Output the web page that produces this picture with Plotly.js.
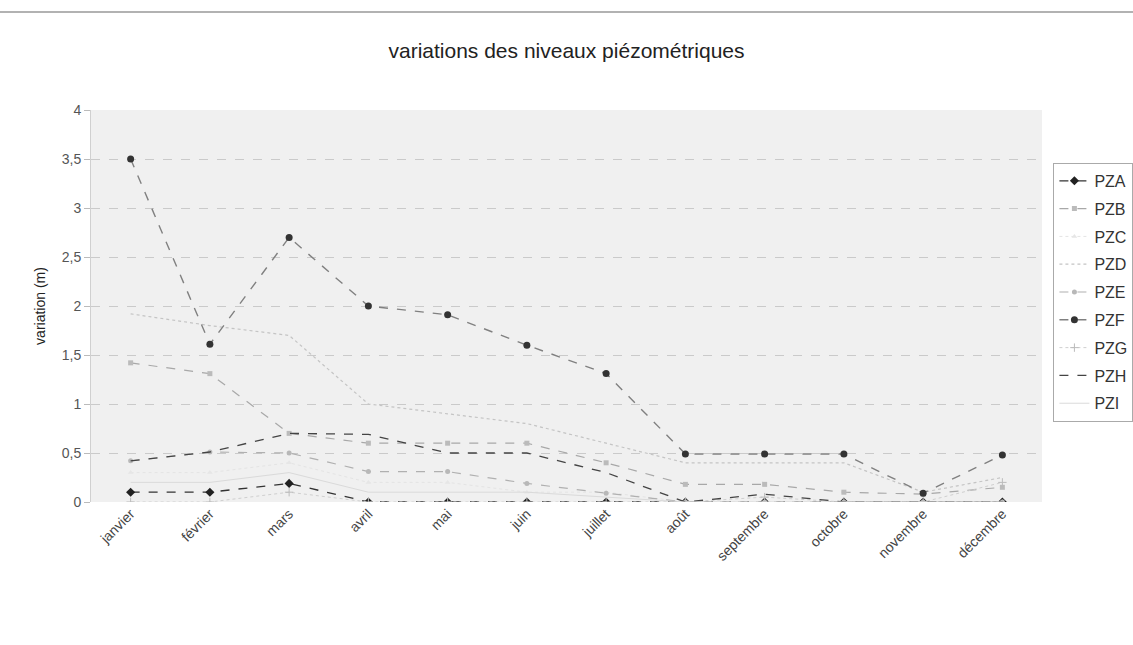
<!DOCTYPE html>
<html>
<head>
<meta charset="utf-8">
<script src="https://cdn.plot.ly/plotly-3.0.1.min.js"></script>
<style>html,body{margin:0;padding:0;background:#fff;}#chart{width:1133px;height:645px;}</style>
</head>
<body>
<div id="chart"></div>
<script>
const months = ["janvier","février","mars","avril","mai","juin","juillet","août","septembre","octobre","novembre","décembre"];
const PZA = [0.1, 0.1, 0.19, 0, 0, 0, 0, 0, 0, 0, 0, 0];
const PZB = [1.42, 1.31, 0.7, 0.6, 0.6, 0.6, 0.4, 0.18, 0.18, 0.1, 0.08, 0.15];
const PZC = [0.3, 0.3, 0.4, 0.2, 0.2, 0.1, 0.1, 0, 0, 0, 0, 0];
const PZD = [1.92, 1.8, 1.7, 1.0, 0.9, 0.8, 0.6, 0.4, 0.4, 0.4, 0.1, 0.25];
const PZE = [0.42, 0.51, 0.5, 0.31, 0.31, 0.19, 0.09, 0, 0, 0, 0, 0];
const PZF = [3.5, 1.61, 2.7, 2.0, 1.91, 1.6, 1.31, 0.49, 0.49, 0.49, 0.09, 0.48];
const PZG = [0, 0, 0.1, 0, 0, 0, 0, 0, 0.05, 0, 0, 0.2];
const PZH = [0.42, 0.51, 0.7, 0.69, 0.5, 0.5, 0.3, 0, 0.08, 0, 0, 0];
const PZI = [0.2, 0.2, 0.3, 0.1, 0.1, 0.1, 0.05, 0, 0, 0, 0, 0];

const FONT = "Liberation Sans, Arial, sans-serif";

const seriesDefs = [
  {name:"PZA", y:PZA, color:"#333", dash:"dash", width:1.3, marker:{symbol:"diamond", size:7, color:"#222"}, mode:"lines+markers"},
  {name:"PZB", y:PZB, color:"#a8a8a8", dash:"dash", width:1.2, marker:{symbol:"square", size:5, color:"#bbb"}, mode:"lines+markers"},
  {name:"PZC", y:PZC, color:"#e4e4e4", dash:"dot", width:1, marker:{symbol:"triangle-up", size:5, color:"#e6e6e6"}, mode:"lines+markers"},
  {name:"PZD", y:PZD, color:"#c4c4c4", dash:"dot", width:1.2, marker:{symbol:"circle", size:4, color:"#c8c8c8"}, mode:"lines"},
  {name:"PZE", y:PZE, color:"#b0b0b0", dash:"dash", width:1.2, marker:{symbol:"circle", size:5, color:"#b8b8b8"}, mode:"lines+markers"},
  {name:"PZF", y:PZF, color:"#808080", dash:"dash", width:1.4, marker:{symbol:"circle", size:7, color:"#333"}, mode:"lines+markers"},
  {name:"PZG", y:PZG, color:"#cfcfcf", dash:"dot", width:1, marker:{symbol:"cross-thin-open", size:6, color:"#bbb", line:{color:"#bbb", width:1}}, mode:"lines+markers"},
  {name:"PZH", y:PZH, color:"#444", dash:"dash", width:1.3, marker:{symbol:"triangle-up", size:5, color:"#333"}, mode:"lines"},
  {name:"PZI", y:PZI, color:"#dadada", dash:"solid", width:1, marker:{size:4}, mode:"lines"}
];

const traces = seriesDefs.map(s => ({
  type:"scatter", x:months, y:s.y, name:s.name, mode:s.mode, legendgroup:s.name,
  line:{color:s.color, dash:s.dash, width:s.width},
  marker:s.marker
}));

const layout = {
  width:1133, height:645,
  paper_bgcolor:"#ffffff",
  plot_bgcolor:"#f0f0f0",
  separators:", ",
  margin:{l:91, r:91, t:110, b:143, autoexpand:false},
  title:{text:"variations des niveaux piézométriques", x:0.5, xanchor:"center", y:0.922, yanchor:"middle",
         font:{family:FONT, size:21, color:"#222"}},
  xaxis:{
    type:"category", range:[-0.5, 11.5],
    tickangle:-45, tickfont:{family:FONT, size:14, color:"#444"},
    showgrid:false, showline:false, zeroline:false,
    ticks:"", ticklen:4
  },
  yaxis:{
    range:[0, 4], dtick:0.5, tick0:0,
    tickformat:".1~f",
    tickfont:{family:FONT, size:14, color:"#555"},
    title:{text:"variation (m)", font:{family:FONT, size:14, color:"#222"}, standoff:12},
    showgrid:true, gridcolor:"#cacaca", griddash:"dash", gridwidth:1,
    zeroline:false, showline:true, linecolor:"#d0d0d0", linewidth:1,
    ticks:"outside", ticklen:6, tickcolor:"#bbb"
  },
  legend:{
    x:1.012, xanchor:"left", y:0.865, yanchor:"top",
    bgcolor:"#ffffff", bordercolor:"#aaa", borderwidth:1,
    font:{family:FONT, size:16, color:"#333"},
    tracegroupgap:4, itemwidth:30
  },
  shapes:[
    {type:"line", xref:"paper", yref:"paper", x0:-0.1, x1:1.1, y0:1.25, y1:1.25,
     line:{color:"#666", width:1.2}}
  ],
  showlegend:true
};

Plotly.newPlot("chart", traces, layout, {displayModeBar:false, staticPlot:true});
</script>
</body>
</html>
